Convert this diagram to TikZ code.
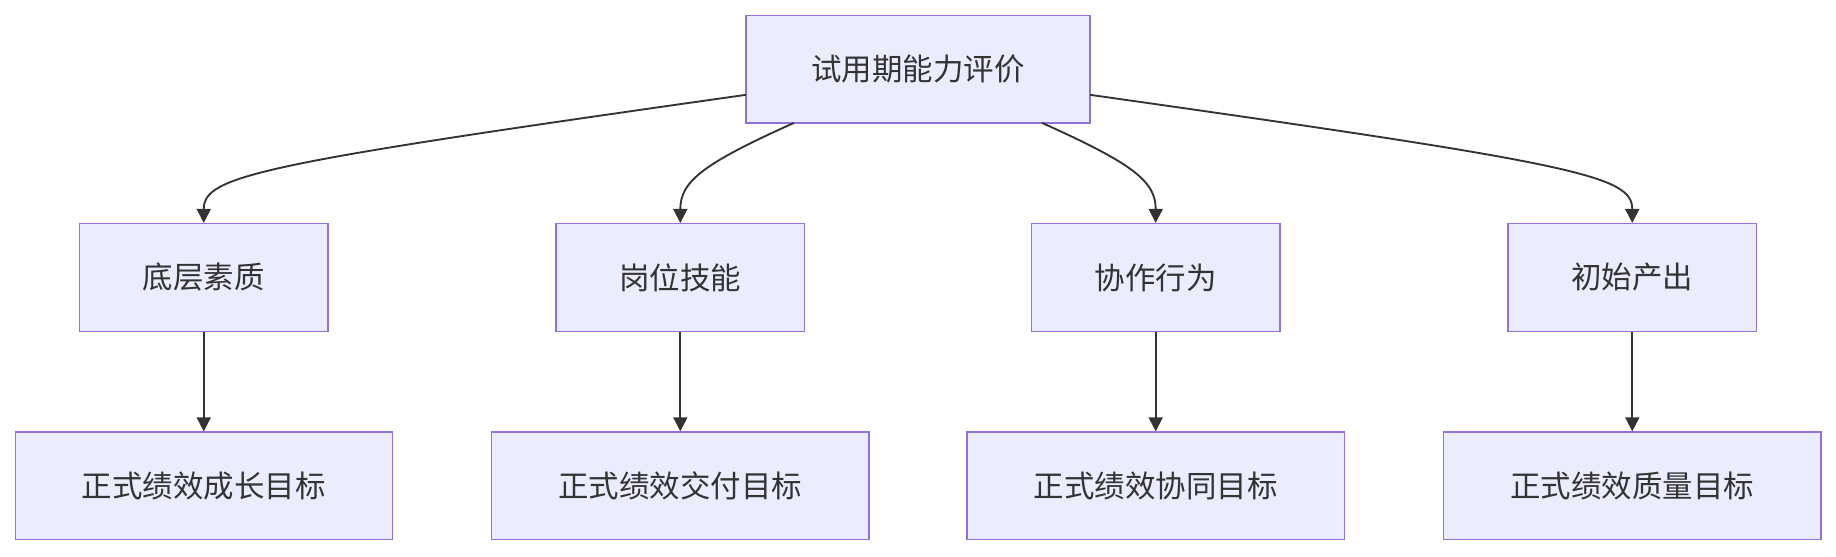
\documentclass[tikz,border=0pt]{standalone}
\usepackage{fontspec}
\newfontfamily\cjk{Noto Sans CJK SC}
\usetikzlibrary{arrows.meta}
\definecolor{boxfill}{HTML}{ECECFF}
\definecolor{boxline}{HTML}{9370DB}
\definecolor{ink}{HTML}{333333}
\begin{document}
\begin{tikzpicture}[x=0.5pt,y=-0.5pt,
  box/.style={draw=boxline,fill=boxfill,line width=0.6pt,text=ink,font=\cjk\fontsize{13}{15}\selectfont,inner sep=0pt,anchor=center},
  conn/.style={draw=ink,line width=0.8pt,-{Triangle[length=6pt,width=6pt]}}]
\useasboundingbox (0,0) rectangle (1568,475);
\node[box,minimum width=147pt,minimum height=46pt] (top) at (784,59) {试用期能力评价};
\foreach \n/\x/\t in {a/174/底层素质,b/581/岗位技能,c/987/协作行为,d/1394/初始产出}
  \node[box,minimum width=106pt,minimum height=46pt] (\n) at (\x,237) {\t};
\foreach \n/\x/\t in {a2/174/正式绩效成长目标,b2/581/正式绩效交付目标,c2/987/正式绩效协同目标,d2/1394/正式绩效质量目标}
  \node[box,minimum width=161pt,minimum height=46pt] (\n) at (\x,415) {\t};
\coordinate (s1) at (637,81);
\coordinate (s2) at (678,105);
\coordinate (s3) at (890,105);
\coordinate (s4) at (931,81);
\draw[conn] (s1) .. controls (220,140) and (174,150) .. (a.north);
\draw[conn] (s2) .. controls (600,140) and (581,155) .. (b.north);
\draw[conn] (s3) .. controls (968,140) and (987,155) .. (c.north);
\draw[conn] (s4) .. controls (1348,140) and (1394,150) .. (d.north);
\foreach \n in {a,b,c,d} \draw[conn] (\n) -- (\n2);
\end{tikzpicture}
\end{document}
